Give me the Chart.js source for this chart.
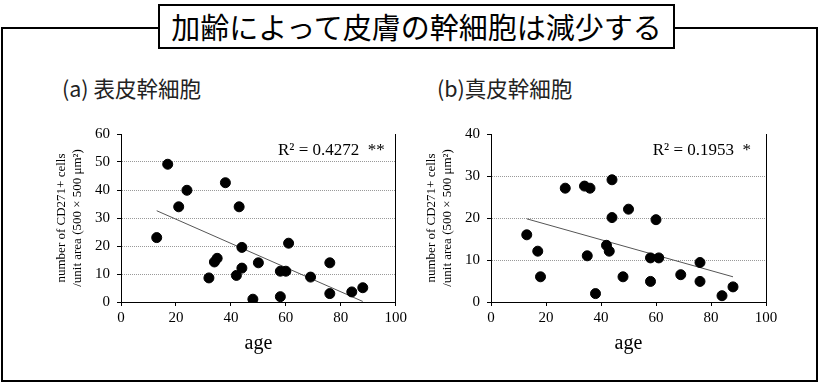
<!DOCTYPE html>
<html>
<head>
<meta charset="utf-8">
<script src="https://cdn.jsdelivr.net/npm/chart.js@4"></script>
<style>
  body { margin: 0; width: 819px; height: 383px; background: #fff; position: relative; overflow: hidden; }
  #frame { position: absolute; left: 1px; top: 27px; width: 813px; height: 351px; border: 2px solid #000; }
  #title { position: absolute; left: 158px; top: 4px; width: 513px; height: 41px; border: 2px solid #000; background: #fff;
           font-family: "Noto Sans CJK JP", sans-serif; font-size: 29px; line-height: 41px; text-align: center; color: #000; }
  .sub { position: absolute; top: 74px; font-family: "Noto Sans CJK JP", sans-serif; font-size: 21.5px; line-height: 28px; color: #222; }
  .box { position: absolute; top: 110px; height: 250px; }
</style>
</head>
<body>
<div id="frame"></div>
<div id="title">加齢によって皮膚の幹細胞は減少する</div>
<div class="sub" style="left:62px">(a) 表皮幹細胞</div>
<div class="sub" style="left:437px">(b)真皮幹細胞</div>
<div class="box" style="left:0px; width:410px"><canvas id="chartA"></canvas></div>
<div class="box" style="left:410px; width:400px"><canvas id="chartB"></canvas></div>
<script>
// (a) epidermal stem cells
const agesA  = [13, 17, 21, 24, 32, 34, 35, 38, 42, 43, 44, 44, 48, 50, 58, 58, 60, 61, 69, 76, 76, 84, 88];
const cellsA = [23, 49.2, 34, 39.9, 8.6, 14.3, 15.6, 42.6, 9.5, 34, 19.5, 12.1, 1, 14, 11, 1.9, 11, 21, 8.9, 14, 3, 3.6, 5.1];
const trendAgeA = [13, 88];
const trendA = [32.6, 0.2];

// (b) dermal stem cells
const agesB  = [13, 17, 18, 27, 34, 35, 36, 38, 42, 43, 44, 44, 48, 50, 58, 58, 60, 61, 69, 76, 76, 84, 88];
const cellsB = [16, 12.1, 6, 27.1, 27.6, 11, 27.1, 2, 13.5, 12.1, 29.1, 20.1, 6, 22.1, 10.5, 4.9, 19.6, 10.5, 6.5, 9.4, 4.9, 1.5, 3.6];
const trendAgeB = [13, 88];
const trendB = [19.8, 6.0];

const xTicks = [0, 20, 40, 60, 80, 100];
const yMaxA = 60, yMaxB = 40;

Chart.defaults.font.family = '"Liberation Serif", "Times New Roman", serif';
Chart.defaults.color = '#000';

const pairs = (xs, ys) => xs.map((x, i) => ({ x: x, y: ys[i] }));

// R² label in the top right of the plot
const r2Label = {
    id: 'r2Label',
    afterDraw(chart, args, opts) {
        const { ctx, chartArea } = chart;
        ctx.save();
        ctx.font = '17px "Liberation Serif", serif';
        ctx.fillStyle = '#000';
        ctx.textAlign = 'right';
        ctx.textBaseline = 'middle';
        ctx.fillText(opts.text, chartArea.right - opts.right, chartArea.top + 17);
        ctx.restore();
    }
};

function makeChart(id, ages, cells, tAges, tVals, yMax, yWidth, titlePad, padRight, label, labelRight) {
    const ctx = document.getElementById(id).getContext('2d');
    return new Chart(ctx, {
        type: 'scatter',
        data: {
            datasets: [{
                data: pairs(ages, cells),
                backgroundColor: '#000',
                borderColor: '#000',
                pointRadius: 5,
                pointHoverRadius: 5
            }, {
                type: 'line',
                data: pairs(tAges, tVals),
                borderColor: '#555',
                borderWidth: 1,
                pointRadius: 0,
                fill: false
            }]
        },
        options: {
            responsive: true,
            maintainAspectRatio: false,
            animation: false,
            layout: { padding: { top: 24, right: padRight, left: 0, bottom: 0 } },
            plugins: {
                legend: { display: false },
                tooltip: { enabled: false },
                r2Label: { text: label, right: labelRight }
            },
            scales: {
                x: {
                    type: 'linear',
                    min: 0, max: 100,
                    afterBuildTicks: s => { s.ticks = xTicks.map(v => ({ value: v })); },
                    afterFit: s => { s.height = 58; },
                    ticks: { font: { size: 15 }, padding: 3, maxRotation: 0 },
                    grid: { drawOnChartArea: false, drawTicks: true, tickLength: 4, tickColor: '#000' },
                    border: { color: '#000', width: 1 },
                    title: { display: true, text: 'age', font: { size: 20 }, padding: { top: 0, bottom: 4 } }
                },
                y: {
                    min: 0, max: yMax,
                    ticks: { stepSize: 10, font: { size: 15 }, padding: 7 },
                    afterFit: s => { s.width = yWidth; },
                    grid: {
                        color: c => (c.tick && (c.tick.value === 0 || c.tick.value === yMax)) ? 'rgba(0,0,0,0)' : '#999',
                        tickLength: 4,
                        tickColor: '#000'
                    },
                    border: { color: '#000', width: 1, dash: [1, 1] },
                    title: {
                        display: true,
                        text: ['number of CD271+ cells', '/unit area (500 × 500 μm²)'],
                        font: { size: 13 },
                        padding: { top: titlePad, bottom: 0 }
                    }
                },
                y2: {
                    position: 'right',
                    min: 0, max: yMax,
                    afterFit: s => { s.width = 0; },
                    ticks: { display: false },
                    grid: { display: false },
                    border: { color: '#000', width: 1 }
                }
            }
        },
        plugins: [r2Label]
    });
}

makeChart('chartA', agesA, cellsA, trendAgeA, trendA, yMaxA, 121, 54, 14, 'R² = 0.4272  **', 11);
makeChart('chartB', agesB, cellsB, trendAgeB, trendB, yMaxB, 81, 14, 44, 'R² = 0.1953  *', 15);
</script>
</body>
</html>
